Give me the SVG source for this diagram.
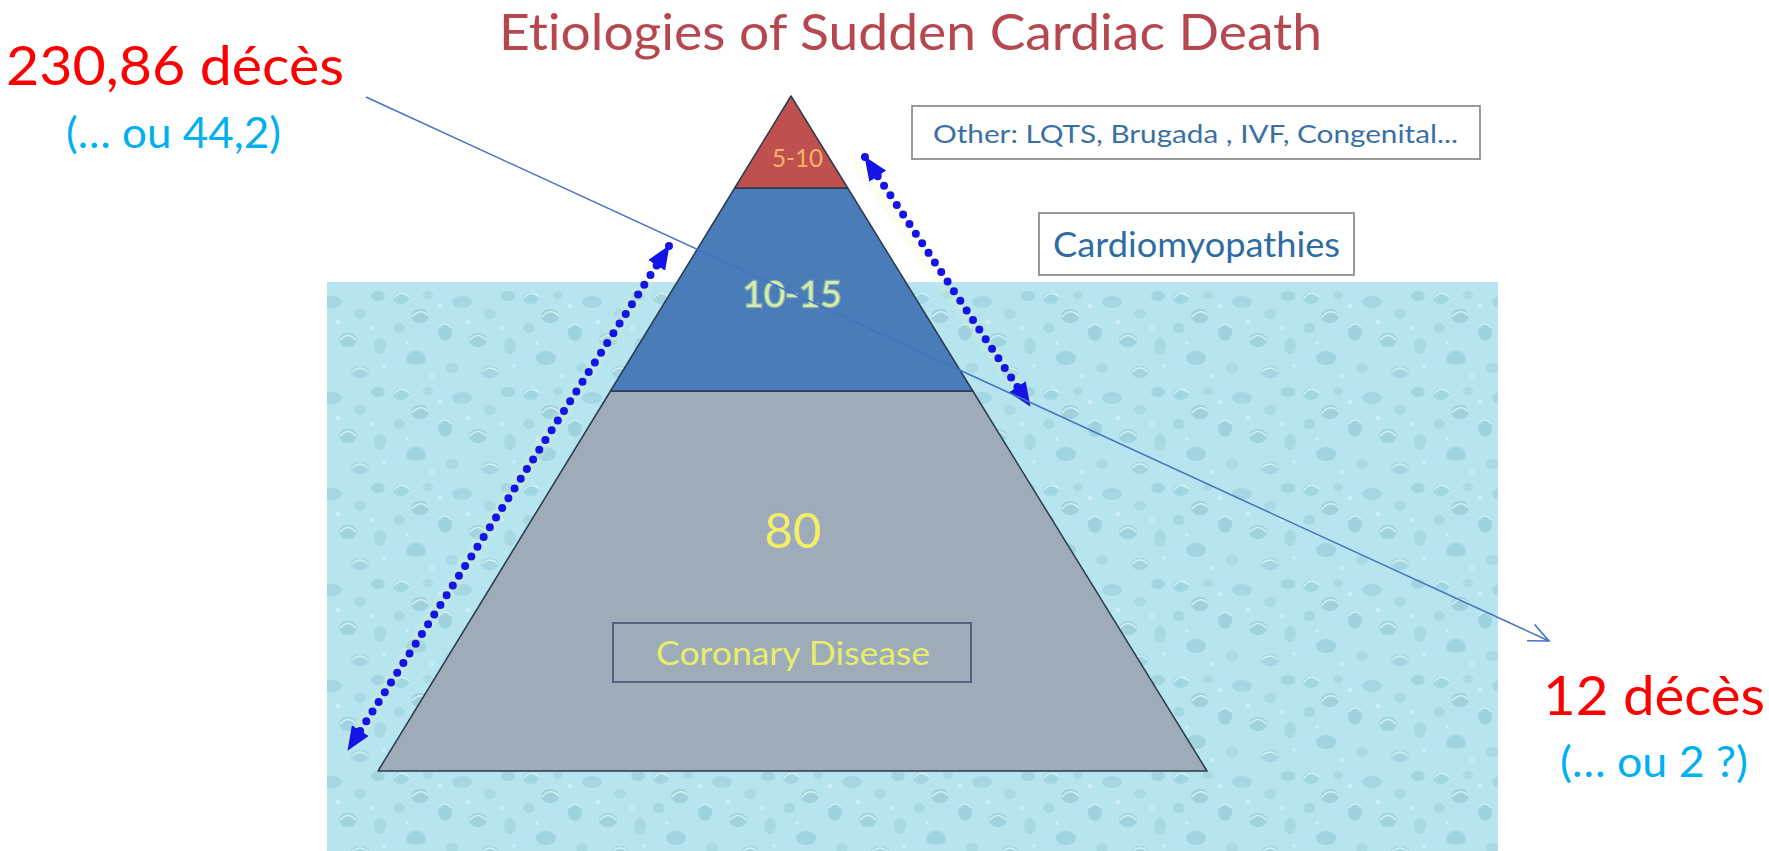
<svg xmlns="http://www.w3.org/2000/svg" width="1769" height="851" viewBox="0 0 1769 851">
<style>
.lato{font-family:Lato,"Liberation Sans",sans-serif;font-variant-ligatures:none;font-feature-settings:"liga" 0,"clig" 0}
.box{fill:#ffffff;stroke:#808080;stroke-width:1.6}
.dotted{fill:none;stroke:#1414e6;stroke-width:8;stroke-linecap:round;stroke-dasharray:0 11.5}
.halo{fill:none;stroke:#e9f5b0;stroke-width:14;stroke-opacity:0.18;stroke-linecap:round}
.edge{stroke:#2a3a4e;stroke-width:1.5;stroke-linejoin:round}
</style>
<defs>
<pattern id="water" width="130" height="96" patternUnits="userSpaceOnUse">
<rect width="130" height="96" fill="#b6e5ef"/>
<ellipse cx="11" cy="10" rx="8" ry="6" fill="#a2d6e2"/>
<path d="M4,10 q7,-9 15,-1" fill="none" stroke="#d8f3f8" stroke-width="1.3"/>
<ellipse cx="38" cy="7" rx="5" ry="4" fill="#a8d9e5"/>
<ellipse cx="30" cy="28" rx="9" ry="7" fill="#9ed0dd"/>
<path d="M22,29 q8,-10 17,-1" fill="none" stroke="#d6f2f7" stroke-width="1.3"/>
<ellipse cx="9" cy="40" rx="6" ry="5" fill="#a6d8e4"/>
<ellipse cx="55" cy="44" rx="7" ry="9" fill="#9fd2df"/>
<path d="M49,40 q6,-8 12,0" fill="none" stroke="#d4f1f7" stroke-width="1.3"/>
<ellipse cx="72" cy="14" rx="10" ry="6" fill="#a4d7e3"/>
<ellipse cx="100" cy="26" rx="6" ry="5" fill="#a9dae6"/>
<ellipse cx="118" cy="8" rx="7" ry="5" fill="#a2d5e1"/>
<ellipse cx="88" cy="52" rx="9" ry="7" fill="#a0d3e0"/>
<path d="M80,52 q8,-9 16,0" fill="none" stroke="#d6f2f7" stroke-width="1.3"/>
<ellipse cx="120" cy="58" rx="6" ry="8" fill="#a7d9e5"/>
<ellipse cx="26" cy="70" rx="10" ry="7" fill="#a1d4e1"/>
<ellipse cx="62" cy="80" rx="6" ry="5" fill="#a8d9e5"/>
<ellipse cx="100" cy="84" rx="9" ry="6" fill="#a3d6e2"/>
<path d="M92,84 q8,-8 16,0" fill="none" stroke="#d6f2f7" stroke-width="1.3"/>
<circle cx="50" cy="18" r="2.5" fill="#cdeef5"/>
<circle cx="17" cy="55" r="2" fill="#cdeef5"/>
<circle cx="78" cy="34" r="2.5" fill="#cdeef5"/>
<circle cx="112" cy="40" r="2" fill="#cdeef5"/>
<circle cx="42" cy="88" r="2" fill="#cdeef5"/>
<circle cx="124" cy="78" r="2" fill="#cdeef5"/>
</pattern>
<marker id="tri" viewBox="0 0 24 20" refX="23" refY="10" markerWidth="24" markerHeight="20" markerUnits="userSpaceOnUse" orient="auto-start-reverse">
<path d="M0,0 L24,10 L0,20 z" fill="#1414e6"/>
</marker>
<marker id="open" viewBox="0 0 22 20" refX="21" refY="10" markerWidth="22" markerHeight="20" markerUnits="userSpaceOnUse" orient="auto">
<path d="M1,1 L21,10 L1,19" fill="none" stroke="#4472c4" stroke-width="1.6"/>
</marker>
</defs>

<rect width="1769" height="851" fill="#ffffff"/>

<g id="water-area">
<rect x="327" y="282" width="1171" height="569" fill="url(#water)"/>
</g>

<g id="title">
<text class="lato" x="499" y="50" font-size="50" fill="#b7474f" textLength="823" lengthAdjust="spacingAndGlyphs">Etiologies of Sudden Cardiac Death</text>
</g>

<g id="pyramid-coronary">
<polygon class="edge" points="610.5,391 972.8,391 1207,771 378,771" fill="#9eabb9"/>
<text class="lato" x="793" y="548" font-size="49" fill="#f2f25e" text-anchor="middle" stroke="#a7a6e6" stroke-width="3" stroke-opacity="0.5" paint-order="stroke">80</text>
</g>
<g id="pyramid-cardiomyopathy">
<polygon class="edge" points="734.7,188 847.7,188 972.8,391 610.5,391" fill="#4a7cb9"/>
<text class="lato" x="792" y="307" font-size="37" fill="#d4eeb0" text-anchor="middle" stroke="#b9d4a0" stroke-width="2.5" stroke-opacity="0.5" paint-order="stroke">10-15</text>
</g>
<g id="pyramid-other">
<polygon class="edge" points="791,96 847.7,188 734.7,188" fill="#c0504d"/>
<text class="lato" x="772" y="167" font-size="25" fill="#f7b26a" textLength="51" lengthAdjust="spacingAndGlyphs">5-10</text>
</g>

<g id="label-other">
<rect class="box" x="912" y="106" width="568" height="53"/>
<text class="lato" x="933" y="143" font-size="25" fill="#3a6fa6" textLength="525" lengthAdjust="spacingAndGlyphs">Other: LQTS, Brugada , IVF, Congenital...</text>
</g>
<g id="label-cardiomyopathies">
<rect class="box" x="1039" y="213" width="315" height="62"/>
<text class="lato" x="1053" y="257" font-size="35" fill="#2f6ca6" textLength="287" lengthAdjust="spacingAndGlyphs">Cardiomyopathies</text>
</g>
<g id="label-coronary">
<rect x="613" y="623" width="358" height="59" fill="none" stroke="#4c5d78" stroke-width="1.8"/>
<text class="lato" x="656" y="665" font-size="32" fill="#e6ee6c" textLength="274" lengthAdjust="spacingAndGlyphs">Coronary Disease</text>
</g>

<g id="count-left">
<text class="lato" x="6" y="85" font-size="54" fill="#ff0000" textLength="338" lengthAdjust="spacingAndGlyphs">230,86 décès</text>
<text class="lato" x="66" y="148" font-size="42" fill="#00b0f0" textLength="215" lengthAdjust="spacingAndGlyphs">(… ou 44,2)</text>
</g>
<g id="count-right">
<text class="lato" x="1543" y="715" font-size="54" fill="#ff0000" textLength="222" lengthAdjust="spacingAndGlyphs">12 décès</text>
<text class="lato" x="1560" y="777" font-size="42" fill="#00b0f0" textLength="188" lengthAdjust="spacingAndGlyphs">(… ou 2 ?)</text>
</g>

<g id="connectors">
<line class="halo" x1="664" y1="254" x2="352" y2="742"/>
<line class="halo" x1="860" y1="165" x2="1025" y2="398"/>
<line class="dotted" x1="669" y1="246" x2="348" y2="750" marker-start="url(#tri)" marker-end="url(#tri)"/>
<line class="dotted" x1="865" y1="157" x2="1030" y2="406" marker-start="url(#tri)" marker-end="url(#tri)"/>
<line x1="366" y1="97" x2="1549" y2="641" stroke="#4472c4" stroke-width="1.5" marker-end="url(#open)"/>
</g>
</svg>
